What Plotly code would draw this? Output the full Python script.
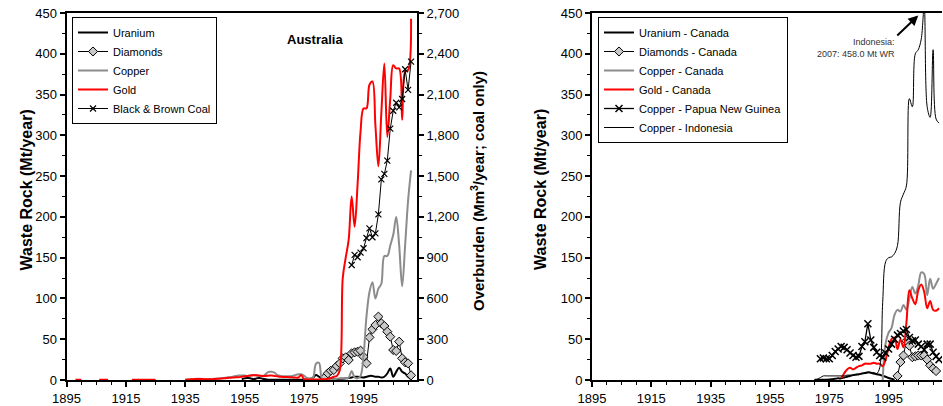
import plotly.graph_objects as go

# ---------------- Australia (left panel) ----------------
uranium_au_years = list(range(1954, 2012))
uranium_au = [1, 2, 2.5, 2, 1, 2, 2.5, 1.5, 1, 0.3, 0.2, 0.2, 0.2, 0.2, 0.2, 0.2, 0.2, 0.2, 0.2, 0.2,
              0.3, 0.5, 0.5, 1, 3, 6, 4, 2, 1.5, 1, 1, 1, 1, 1.5, 1.5, 2, 2.5, 3, 4, 4,
              3.5, 3, 4, 5, 5, 4, 4, 3, 4, 8, 14, 4, 10, 15, 10, 8, 4, 1]

diamonds_au_years = list(range(1982, 2012))
diamonds_au = [3.3, 8.2, 11.4, 12.3, 17.2, 20.4, 26.6, 27.8, 24.5, 32.7, 33.9, 34.7, 36, 28.6, 20.4,
               52.3, 62.1, 67.4, 77.7, 69.5, 66.2, 59.3, 53.1, 36.8, 35.6, 47, 26.6, 21.7, 20.4, 5.7]

copper_au_years = list(range(1935, 2012))
copper_au = [0.3, 0.5, 0.8, 1.2, 1.5, 1.5, 1.3, 1.0, 1.0, 1.2, 1.5, 1.8, 2.0, 2.5, 3.0, 3.5, 4.0, 5.0,
             5.5, 5.5, 5.5, 5.0, 5.5, 6.0, 5.5, 5.0, 5.0, 7.0, 10.0, 10.0, 9.0, 6.0, 5.0, 4.5, 4.5,
             4.5, 5.0, 6.0, 7.0, 7.0, 5.0, 2.5, 2.0, 3.0, 20, 21, 2, 1, 1, 1, 1, 1.5, 2, 2, 2, 3,
             11, 3, 2, 5, 30, 78, 108, 120, 100, 112, 118, 152, 152, 165, 178, 200, 165, 115, 165,
             220, 257]

gold_au_years = [1898, 1899, 1900, 1901,
                 1906, 1907, 1908, 1909, 1910,
                 1917, 1918, 1919, 1920, 1921, 1922, 1923, 1924, 1925, 1926] + list(range(1935, 2012))
gold_au = [0.3, 0.3, 0.3, None,
           0.3, 0.3, 0.3, 0.3, None,
           0.3, 0.3, 0.3, 0.3, 0.3, 0.3, 0.3, 0.3, 0.3, None,
           0.3, 0.5, 0.8, 1.0, 1.2, 1.2, 1.0, 0.8, 0.8, 1.0, 1.2, 1.5, 1.8, 2.0, 2.5, 2.8, 3.0,
           3.3, 3.5, 4.0, 4.5, 5.0, 5.5, 5.8, 5.8, 5.5, 5.0, 5.0, 5.3, 5.5, 5.0, 4.5, 4.0, 3.8,
           3.8, 3.5, 3.3, 3.0, 3.0, 6.0, 1.0, 0.5, 0.5, 0.5, 0.5, 0.5, 0.8, 1.0, 1.5, 2.5, 4, 5,
           12, 125, 150, 172, 225, 188, 240, 305, 333, 333, 362, 366, 312, 262, 328, 388, 298,
           345, 386, 382, 382, 319, 378, 380, 443]

coal_years = list(range(1991, 2012))
coal_overburden = [846, 920, 903, 937, 969, 1045, 1116, 1050, 1079, 1219, 1476, 1516, 1614, 1849,
                   1981, 2040, 2006, 2067, 2286, 2134, 2342]

# ---------------- Canada / PNG / Indonesia (right panel) ----------------
uranium_ca_years = list(range(1970, 1998))
uranium_ca = [0.3, 0.3, 0.3, 0.3, 0.3, 0.5, 1, 1.5, 2, 2, 3, 4, 5, 6, 6.5, 7, 8, 8.5, 9.5, 9, 8, 7,
              6.5, 5, 4, 2.5, 1.5, 0.3]

diamonds_ca_years = list(range(1998, 2012))
diamonds_ca = [5, 22, 30, 48, 42, 28, 29, 30, 30, 30, 25, 18, 14, 11]

copper_ca_years = list(range(1993, 2013))
copper_ca = [0, 45, 58, 64, 80, 86, 84, 92, 86, 100, 114, 106, 116, 132, 130, 104, 124, 112, 118, 125]

gold_ca_years = list(range(1979, 2013))
gold_ca = [2, 8, 13, 15, 13, 15, 17, 18, 20, 20, 20, 21, 20, 20, 17, 25, 40, 50, 52, 38, 50, 40, 70,
           110, 100, 93, 110, 117, 108, 88, 97, 86, 85, 88]

copper_png_years = list(range(1972, 2013))
copper_png = [26, 27, 26, 26, 30, 35, 38, 41, 40, 37, 33, 30, 28, 29, 41, 47, 69, 49, 40, 34, 30,
              28, 33, 38, 44, 50, 55, 57, 60, 62, 52, 48, 49, 44, 41, 37, 44, 44, 34, 29, 25]

copper_id_years = list(range(1970, 2013))
copper_id = [0, 1, 3, 5, 5, 5, 5, 5, 5, 5, 5, 6, 6, 6, 7, 7, 8, 8, 9, 9, 9, 8, 15, 95, 145, 150,
             151, 155, 165, 218, 228, 238, 345, 335, 400, 405, 418, 458, 335, 322, 405, 320, 315]

FONT = "Liberation Sans, Arial, sans-serif"
W, H = 943, 406
GRAY = "#8C8C8C"
RED = "#FF0000"

fig = go.Figure()

# left panel traces
fig.add_trace(go.Scatter(x=uranium_au_years, y=uranium_au, name="Uranium", mode="lines",
                         line=dict(color="black", width=2, shape="spline"),
                         xaxis="x", yaxis="y", legend="legend"))
fig.add_trace(go.Scatter(x=diamonds_au_years, y=diamonds_au, name="Diamonds", mode="lines+markers",
                         line=dict(color="black", width=1),
                         marker=dict(symbol="diamond", size=7, color="#C8C8C8",
                                     line=dict(color="black", width=1)),
                         xaxis="x", yaxis="y", legend="legend"))
fig.add_trace(go.Scatter(x=copper_au_years, y=copper_au, name="Copper", mode="lines",
                         line=dict(color=GRAY, width=2, shape="spline"),
                         xaxis="x", yaxis="y", legend="legend"))
fig.add_trace(go.Scatter(x=gold_au_years, y=gold_au, name="Gold", mode="lines",
                         line=dict(color=RED, width=2, shape="spline"), connectgaps=False,
                         xaxis="x", yaxis="y", legend="legend"))
fig.add_trace(go.Scatter(x=coal_years, y=coal_overburden, name="Black & Brown Coal",
                         mode="lines+markers",
                         line=dict(color="black", width=1),
                         marker=dict(symbol="x-thin", size=6, color="black",
                                     line=dict(color="black", width=1.2)),
                         xaxis="x", yaxis="y2", legend="legend"))

# right panel traces
fig.add_trace(go.Scatter(x=uranium_ca_years, y=uranium_ca, name="Uranium - Canada", mode="lines",
                         line=dict(color="black", width=2, shape="spline"),
                         xaxis="x2", yaxis="y3", legend="legend2"))
fig.add_trace(go.Scatter(x=diamonds_ca_years, y=diamonds_ca, name="Diamonds - Canada",
                         mode="lines+markers", line=dict(color="black", width=1),
                         marker=dict(symbol="diamond", size=7, color="#C8C8C8",
                                     line=dict(color="black", width=1)),
                         xaxis="x2", yaxis="y3", legend="legend2"))
fig.add_trace(go.Scatter(x=copper_ca_years, y=copper_ca, name="Copper - Canada", mode="lines",
                         line=dict(color=GRAY, width=2, shape="spline"),
                         xaxis="x2", yaxis="y3", legend="legend2"))
fig.add_trace(go.Scatter(x=gold_ca_years, y=gold_ca, name="Gold - Canada", mode="lines",
                         line=dict(color=RED, width=2, shape="spline"),
                         xaxis="x2", yaxis="y3", legend="legend2"))
fig.add_trace(go.Scatter(x=copper_png_years, y=copper_png, name="Copper - Papua New Guinea",
                         mode="lines+markers", line=dict(color="black", width=1.3),
                         marker=dict(symbol="x-thin", size=7, color="black",
                                     line=dict(color="black", width=1.5)),
                         xaxis="x2", yaxis="y3", legend="legend2"))
fig.add_trace(go.Scatter(x=copper_id_years, y=copper_id, name="Copper - Indonesia", mode="lines",
                         line=dict(color="black", width=1, shape="spline"),
                         xaxis="x2", yaxis="y3", legend="legend2"))

ydom = [26 / H, 393 / H]
tickfont = dict(family=FONT, size=13, color="black")

def xax(domain, anchor):
    return dict(domain=domain, anchor=anchor, range=[1895, 2013], tick0=1895, dtick=20,
                ticks="outside", ticklen=5, tickwidth=1.5, tickcolor="black",
                minor=dict(dtick=5, tick0=1895, ticks="outside", ticklen=3, tickwidth=1,
                           tickcolor="black", showgrid=False),
                showline=True, linewidth=2, linecolor="black", mirror=True,
                showgrid=False, zeroline=False, tickfont=tickfont, automargin=False)

def yax(anchor, rng, dtick, mdtick, side="left", overlaying=None, fmt=None):
    d = dict(domain=ydom, anchor=anchor, range=rng, dtick=dtick, tick0=0,
             ticks="outside", ticklen=5, tickwidth=1.5, tickcolor="black",
             minor=dict(dtick=mdtick, tick0=0, ticks="outside", ticklen=3, tickwidth=1,
                        tickcolor="black", showgrid=False),
             showline=True, linewidth=2, linecolor="black", side=side,
             showgrid=False, zeroline=False, tickfont=tickfont, automargin=False)
    if overlaying:
        d["overlaying"] = overlaying
        d.pop("domain")
    if fmt:
        d["tickformat"] = fmt
    return d

legend_common = dict(bgcolor="white", bordercolor="black", borderwidth=1,
                     font=dict(family=FONT, size=11, color="black"),
                     xanchor="left", yanchor="top", itemwidth=30, tracegroupgap=0,
                     itemclick=False)

fig.update_layout(
    width=W, height=H, autosize=False,
    margin=dict(l=0, r=0, t=0, b=0),
    paper_bgcolor="white", plot_bgcolor="white",
    font=dict(family=FONT, color="black"),
    xaxis=xax([66.5 / W, 417 / W], "y"),
    yaxis=yax("x", [0, 450], 50, 25),
    yaxis2=yax("x", [0, 2700], 300, 150, side="right", overlaying="y", fmt=",d"),
    xaxis2=xax([592 / W, 942 / W], "y3"),
    yaxis3=yax("x2", [0, 450], 50, 25),
    legend=dict(x=72 / W, y=1 - 17 / H, **legend_common),
    legend2=dict(x=598 / W, y=1 - 17 / H, **legend_common),
    showlegend=True,
)

ann = [
    dict(text="<b>Australia</b>", x=285 / W, y=1 - 30 / H, xref="paper", yref="paper",
         showarrow=False, font=dict(family=FONT, size=13, color="black")),
    dict(text="<b>Waste Rock (Mt/year)</b>", x=15 / W, y=1 - 190 / H, xref="paper", yref="paper",
         textangle=-90, showarrow=False, font=dict(family=FONT, size=16, color="black")),
    dict(text="<b>Overburden (Mm<sup>3</sup>/year; coal only)</b>", x=477 / W, y=1 - 191 / H,
         xref="paper", yref="paper", textangle=-90, showarrow=False,
         font=dict(family=FONT, size=15, color="black")),
    dict(text="<b>Waste Rock (Mt/year)</b>", x=540 / W, y=1 - 190 / H, xref="paper", yref="paper",
         textangle=-90, showarrow=False, font=dict(family=FONT, size=16, color="black")),
    dict(text="Indonesia:<br>2007: 458.0 Mt WR", x=2005, y=447, xref="x2", yref="y3",
         xanchor="right", yanchor="top", align="right", showarrow=True,
         ax=-21, ay=20, arrowhead=2, arrowsize=1, arrowwidth=2, arrowcolor="black",
         font=dict(family=FONT, size=9, color="#333333")),
]
fig.update_layout(annotations=ann)

fig.write_html("out.html")
